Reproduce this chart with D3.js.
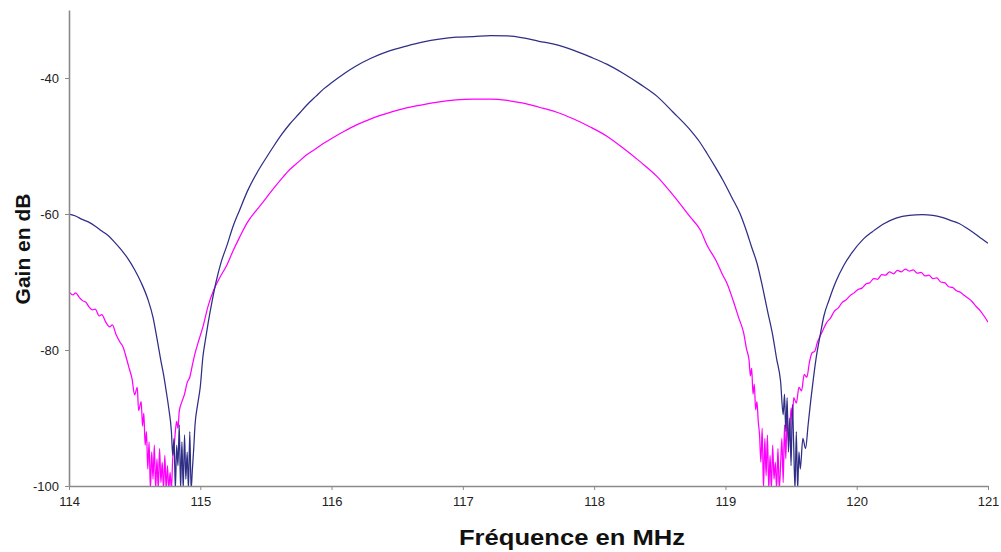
<!DOCTYPE html>
<html>
<head>
<meta charset="utf-8">
<script src="https://cdn.jsdelivr.net/npm/d3@7"></script>
<style>
  body { margin: 0; background: #fff; }
  text { font-family: "Liberation Sans", Arial, sans-serif; }
</style>
</head>
<body>
<svg id="chart" width="1001" height="552"></svg>
<script>
// tick labels
const xTicks = [114, 115, 116, 117, 118, 119, 120, 121];
const yTicks = [-100, -80, -60, -40];

// blue trace
const blueFreq = [114.00,114.05,114.10,114.15,114.20,114.25,114.30,114.35,114.40,114.45,114.50,114.55,114.60,114.64,114.67,114.70,114.72,114.74,114.76,114.78,114.79,114.80,114.81,114.82,114.83,114.84,114.85,114.86,114.87,114.88,114.89,114.90,114.91,114.92,114.93,114.94,114.95,114.96,114.98,115.00,115.02,115.04,115.06,115.09,115.12,115.16,115.20,115.25,115.30,115.36,115.43,115.50,115.56,115.62,115.68,115.75,115.81,115.88,115.94,116.00,116.10,116.19,116.30,116.44,116.57,116.70,116.82,116.95,117.08,117.21,117.34,117.46,117.58,117.71,117.84,117.97,118.10,118.22,118.35,118.48,118.60,118.73,118.80,118.86,118.92,118.98,119.05,119.11,119.16,119.20,119.24,119.28,119.32,119.36,119.39,119.42,119.44,119.45,119.46,119.47,119.48,119.49,119.50,119.51,119.52,119.53,119.54,119.55,119.56,119.57,119.59,119.61,119.63,119.65,119.67,119.69,119.72,119.75,119.79,119.84,119.90,119.96,120.05,120.12,120.20,120.30,120.40,120.50,120.58,120.65,120.71,120.78,120.84,120.90,120.95,121.00];
const blueGain = [-60.0,-60.3,-60.8,-61.2,-61.8,-62.5,-63.2,-64.2,-65.3,-66.6,-68.2,-70.1,-72.5,-75.2,-78.3,-81.6,-83.6,-86.0,-88.6,-92.0,-95.5,-93.0,-100.5,-94.0,-97.0,-91.0,-100.5,-93.5,-100.5,-92.5,-99.0,-95.0,-100.5,-92.0,-100.5,-97.5,-94.5,-91.0,-88.0,-85.4,-81.0,-78.4,-76.0,-72.8,-70.0,-67.0,-64.8,-61.8,-59.4,-56.6,-54.0,-51.8,-50.0,-48.3,-46.8,-45.3,-44.0,-42.7,-41.6,-40.7,-39.3,-38.2,-37.1,-36.0,-35.3,-34.7,-34.3,-34.0,-33.9,-33.75,-33.8,-34.1,-34.6,-35.1,-35.9,-36.9,-38.0,-39.3,-40.9,-42.7,-45.0,-47.6,-49.3,-51.1,-53.0,-55.0,-57.6,-59.9,-62.5,-64.9,-67.2,-70.5,-74.2,-77.8,-81.3,-84.6,-89.5,-86.5,-92.0,-87.0,-95.0,-90.0,-97.0,-88.0,-94.0,-100.5,-92.0,-100.5,-95.0,-97.5,-93.0,-94.5,-91.0,-87.4,-84.2,-81.3,-78.0,-75.0,-72.6,-70.0,-67.6,-65.8,-63.7,-62.6,-61.5,-60.6,-60.2,-60.1,-60.2,-60.5,-60.9,-61.4,-62.1,-62.9,-63.6,-64.3];

// magenta trace
const pinkFreq = [114.00,114.03,114.05,114.08,114.10,114.13,114.15,114.18,114.20,114.23,114.25,114.28,114.31,114.33,114.36,114.39,114.41,114.44,114.46,114.48,114.50,114.52,114.53,114.55,114.56,114.57,114.58,114.59,114.60,114.61,114.62,114.63,114.64,114.65,114.66,114.67,114.68,114.69,114.70,114.71,114.72,114.73,114.74,114.75,114.76,114.77,114.78,114.79,114.80,114.81,114.82,114.83,114.84,114.86,114.88,114.90,114.92,114.94,114.96,114.99,115.02,115.06,115.10,115.15,115.20,115.25,115.30,115.36,115.43,115.50,115.56,115.62,115.68,115.75,115.81,115.88,115.94,116.00,116.10,116.19,116.30,116.44,116.57,116.70,116.82,116.95,117.08,117.21,117.34,117.46,117.58,117.71,117.84,117.97,118.10,118.22,118.35,118.48,118.60,118.73,118.81,118.86,118.93,118.98,119.01,119.06,119.10,119.14,119.16,119.18,119.19,119.20,119.21,119.22,119.23,119.24,119.25,119.26,119.27,119.28,119.29,119.30,119.31,119.32,119.33,119.34,119.35,119.36,119.37,119.38,119.39,119.40,119.41,119.42,119.43,119.44,119.45,119.46,119.47,119.48,119.49,119.50,119.51,119.52,119.54,119.56,119.58,119.60,119.62,119.64,119.66,119.68,119.70,119.72,119.74,119.77,119.80,119.83,119.86,119.89,119.92,119.95,119.98,120.01,120.04,120.07,120.10,120.13,120.16,120.19,120.22,120.25,120.28,120.31,120.34,120.37,120.40,120.43,120.46,120.49,120.52,120.55,120.58,120.61,120.64,120.67,120.70,120.73,120.76,120.79,120.82,120.85,120.88,120.91,120.94,120.97,121.00];
const pinkGain = [-71.4,-71.9,-71.6,-72.3,-72.7,-73.0,-73.6,-74.1,-74.0,-75.0,-74.8,-75.9,-76.6,-76.3,-77.8,-78.9,-79.5,-81.4,-82.8,-84.2,-86.6,-85.5,-88.9,-87.6,-91.2,-89.3,-94.0,-92.0,-97.5,-93.5,-100.5,-95.0,-99.0,-94.0,-100.5,-96.0,-100.5,-94.5,-99.5,-96.5,-100.5,-95.5,-100.5,-97.0,-100.5,-98.0,-100.5,-96.0,-94.5,-92.0,-90.5,-91.5,-89.0,-87.6,-86.5,-84.8,-84.0,-82.2,-80.5,-78.5,-76.6,-73.5,-71.3,-69.3,-67.6,-65.4,-63.4,-61.2,-59.4,-57.7,-56.2,-54.8,-53.5,-52.3,-51.3,-50.4,-49.6,-48.9,-47.8,-46.9,-46.0,-45.1,-44.4,-43.9,-43.5,-43.2,-43.1,-43.1,-43.3,-43.7,-44.3,-45.0,-46.0,-47.2,-48.6,-50.3,-52.3,-54.5,-57.2,-60.4,-62.4,-64.6,-66.9,-69.0,-70.1,-72.8,-75.2,-77.6,-79.8,-81.5,-83.8,-82.7,-86.5,-85.0,-88.8,-87.6,-90.5,-92.5,-96.5,-91.5,-100.5,-93.0,-98.5,-92.5,-100.5,-95.5,-100.5,-94.0,-99.0,-96.5,-100.5,-94.5,-100.5,-97.0,-93.0,-99.5,-91.0,-96.0,-89.0,-93.5,-92.0,-88.5,-90.5,-87.0,-87.8,-85.5,-86.0,-83.6,-84.0,-81.8,-80.4,-80.2,-78.9,-78.0,-77.2,-76.0,-75.3,-74.3,-73.8,-73.0,-72.6,-72.0,-71.6,-71.1,-70.9,-70.3,-70.1,-69.5,-69.6,-68.9,-69.0,-68.5,-68.8,-68.3,-68.5,-68.1,-68.4,-68.2,-68.7,-68.6,-69.1,-69.0,-69.5,-69.4,-70.0,-70.1,-70.7,-70.8,-71.3,-71.5,-72.0,-72.4,-72.9,-73.6,-74.2,-75.0,-75.9];

const svg = d3.select('#chart');

const x = d3.scaleLinear().domain([114, 121]).range([69, 988]);
const y = d3.scaleLinear().domain([-100, -30]).range([486, 10]);

svg.append('clipPath').attr('id', 'plot')
  .append('rect')
  .attr('x', x(114)).attr('y', y(-30))
  .attr('width', x(121) - x(114)).attr('height', y(-100) - y(-30));

// traces
const line = d3.line()
  .curve(d3.curveMonotoneX)
  .x(d => x(d[0]))
  .y(d => y(d[1]));

const series = [
  { f: pinkFreq, g: pinkGain, color: '#ff00ff' },
  { f: blueFreq, g: blueGain, color: '#2e2e86' }
];

svg.append('g')
  .attr('clip-path', 'url(#plot)')
  .selectAll('path')
  .data(series)
  .enter().append('path')
  .attr('fill', 'none')
  .attr('stroke', d => d.color)
  .attr('stroke-width', 1.25)
  .attr('stroke-linejoin', 'round')
  .attr('d', d => line(d.f.map((v, i) => [v, d.g[i]])));

// axes
const xAxis = svg.append('g')
  .attr('transform', 'translate(0,' + y(-100) + ')')
  .call(d3.axisBottom(x).tickValues(xTicks).tickFormat(d => String(d)).tickSizeInner(4).tickSizeOuter(0));

const yAxis = svg.append('g')
  .attr('transform', 'translate(' + x(114) + ',0)')
  .call(d3.axisLeft(y).tickValues(yTicks).tickFormat(d => String(d)).tickSizeInner(4).tickSizeOuter(0));

[xAxis, yAxis].forEach(a => {
  a.select('.domain').attr('stroke', '#8a8a8a').attr('stroke-width', 1.6);
  a.selectAll('.tick line').attr('stroke', '#8a8a8a');
  a.selectAll('.tick text')
    .attr('fill', '#222')
    .style('font-size', '13px')
    .style('font-family', '"Liberation Sans", Arial, sans-serif');
});
xAxis.selectAll('.tick text').attr('dy', '1.0em');
yAxis.selectAll('.tick text').attr('x', -10);

// axis titles
svg.append('text')
  .attr('x', 572)
  .attr('y', 545)
  .attr('text-anchor', 'middle')
  .attr('font-weight', 'bold')
  .attr('font-size', 22)
  .attr('textLength', 226)
  .attr('lengthAdjust', 'spacingAndGlyphs')
  .attr('fill', '#111')
  .text('Fréquence en MHz');

svg.append('text')
  .attr('transform', 'translate(30,249) rotate(-90)')
  .attr('text-anchor', 'middle')
  .attr('font-weight', 'bold')
  .attr('font-size', 21)
  .attr('fill', '#111')
  .text('Gain en dB');
</script>
</body>
</html>
